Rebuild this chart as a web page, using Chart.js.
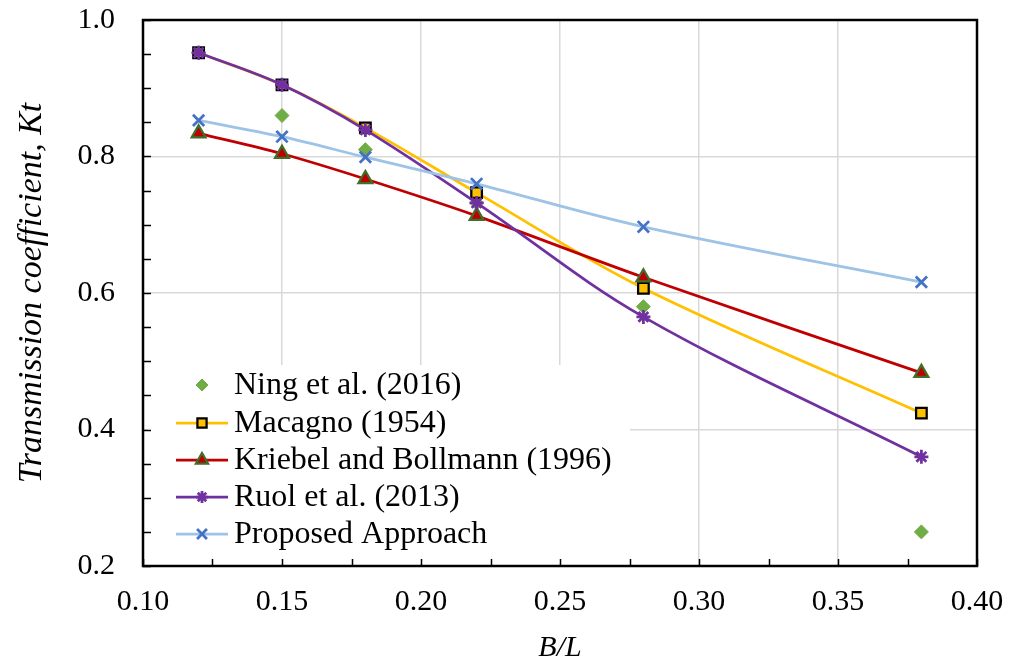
<!DOCTYPE html>
<html>
<head>
<meta charset="utf-8">
<script src="https://cdn.jsdelivr.net/npm/chart.js@4/dist/chart.umd.min.js"></script>
<style>
  html, body { margin: 0; padding: 0; background: #fff; }
  #wrap { width: 1016px; height: 669px; }
</style>
</head>
<body>
<div id="wrap"><canvas id="chart" width="1016" height="669"></canvas></div>
<script>
const ratios = [0.12, 0.15, 0.18, 0.22, 0.28, 0.38];
const ning = [0.952, 0.86, 0.81, 0.732, 0.58, 0.25];
const macagno = [0.952, 0.905, 0.842, 0.747, 0.607, 0.424];
const kriebel = [0.834, 0.804, 0.767, 0.713, 0.623, 0.483];
const ruol = [0.952, 0.905, 0.839, 0.732, 0.565, 0.36];
const proposed = [0.853, 0.829, 0.799, 0.76, 0.697, 0.616];
const xLabels = ['0.10', '0.15', '0.20', '0.25', '0.30', '0.35', '0.40'];
const yLabels = ['0.2', '0.4', '0.6', '0.8', '1.0'];

const FONT = "'Liberation Serif', 'Times New Roman', serif";

function pts(ys) {
  return ratios.map((x, i) => ({ x: x, y: ys[i] }));
}

const datasets = [
  {
    label: 'Ning et al. (2016)', data: pts(ning), showLine: false,
    pointStyle: 'rectRot', pointRadius: 7, pointBackgroundColor: '#70ad47',
    pointBorderColor: '#70ad47', pointBorderWidth: 1, borderColor: '#70ad47', order: 5
  },
  {
    label: 'Macagno (1954)', data: pts(macagno), borderColor: '#ffc000', borderWidth: 2.75,
    pointStyle: 'rect', pointRadius: 7.5, pointBackgroundColor: '#ffc000',
    pointBorderColor: '#000000', pointBorderWidth: 2.25, order: 4
  },
  {
    label: 'Kriebel and Bollmann (1996)', data: pts(kriebel), borderColor: '#c00000', borderWidth: 2.75,
    pointStyle: 'triangle', pointRadius: 8, pointBackgroundColor: '#c00000',
    pointBorderColor: '#3f6f2a', pointBorderWidth: 2.25, order: 3
  },
  {
    label: 'Ruol et al. (2013)', data: pts(ruol), borderColor: '#7030a0', borderWidth: 2.75,
    pointStyle: 'star', pointRadius: 7, pointBackgroundColor: '#7030a0',
    pointBorderColor: '#7030a0', pointBorderWidth: 2.75, order: 2
  },
  {
    label: 'Proposed Approach', data: pts(proposed), borderColor: '#9dc3e6', borderWidth: 2.75,
    pointStyle: 'crossRot', pointRadius: 8, pointBackgroundColor: '#4472c4',
    pointBorderColor: '#4472c4', pointBorderWidth: 2.75, order: 1
  }
];

function near(v, list) {
  return list.some(s => Math.abs(v - parseFloat(s)) < 1e-6);
}

// white legend box, inward tick marks, frame and legend
const extras = {
  id: 'extras',
  beforeDatasetsDraw(chart) {
    const ctx = chart.ctx;
    ctx.save();
    ctx.fillStyle = '#ffffff';
    ctx.fillRect(148, 365, 482, 199);
    ctx.restore();
  },
  afterDatasetsDraw(chart) {
    const ctx = chart.ctx;
    const a = chart.chartArea;
    const xs = chart.scales.x, ys = chart.scales.y;
    ctx.save();
    ctx.strokeStyle = '#000';
    ctx.lineWidth = 1.5;
    ctx.beginPath();
    xs.ticks.forEach(t => {
      const px = Math.round(xs.getPixelForValue(t.value)) + 0.5;
      ctx.moveTo(px, a.bottom);
      ctx.lineTo(px, a.bottom - 7);
    });
    ys.ticks.forEach(t => {
      const py = Math.round(ys.getPixelForValue(t.value)) + 0.5;
      ctx.moveTo(a.left, py);
      ctx.lineTo(a.left + 8, py);
    });
    ctx.stroke();
    ctx.lineWidth = 2.5;
    ctx.strokeRect(a.left, a.top, a.right - a.left, a.bottom - a.top);

    const rows = [385, 423, 460, 497, 534];
    ctx.font = '32px ' + FONT;
    ctx.textBaseline = 'middle';
    ctx.textAlign = 'left';
    datasets.forEach((ds, i) => {
      const y = rows[i];
      if (ds.showLine !== false) {
        ctx.strokeStyle = ds.borderColor;
        ctx.lineWidth = ds.borderWidth;
        ctx.beginPath();
        ctx.moveTo(176, y);
        ctx.lineTo(228, y);
        ctx.stroke();
      }
      ctx.fillStyle = ds.pointBackgroundColor;
      ctx.strokeStyle = ds.pointBorderColor;
      ctx.lineWidth = ds.pointBorderWidth;
      Chart.helpers.drawPoint(ctx, {
        pointStyle: ds.pointStyle, radius: ds.pointRadius - 1, borderWidth: ds.pointBorderWidth, rotation: 0
      }, 202, y);
      ctx.fillStyle = '#000';
      ctx.fillText(ds.label, 234, y + 1);
    });
    ctx.restore();
  }
};

new Chart(document.getElementById('chart'), {
  type: 'line',
  data: { datasets: datasets },
  plugins: [extras],
  options: {
    responsive: false,
    animation: false,
    events: [],
    layout: { padding: { top: 20, right: 39, left: 0, bottom: 0 } },
    elements: { line: { tension: 0.35 } },
    plugins: { legend: { display: false }, tooltip: { enabled: false } },
    scales: {
      x: {
        type: 'linear', min: 0.10, max: 0.40,
        afterFit(s) { s.height = 103; s.paddingLeft = 0; s.paddingRight = 0; },
        ticks: {
          stepSize: 0.025, autoSkip: false, maxRotation: 0, padding: 18, color: '#000',
          font: { family: FONT, size: 30 },
          callback: v => near(v, xLabels) ? v.toFixed(2) : ''
        },
        grid: {
          drawTicks: false, lineWidth: 1.5,
          color: c => (c.tick && near(c.tick.value, ['0.15', '0.20', '0.25', '0.30', '0.35'])) ? '#d9d9d9' : 'rgba(0,0,0,0)'
        },
        border: { display: false },
        title: {
          display: true, text: 'B/L', color: '#000',
          font: { family: FONT, size: 30, style: 'italic' }, padding: { top: 0, bottom: 3 }
        }
      },
      y: {
        type: 'linear', min: 0.2, max: 1.0,
        afterFit(s) { s.width = 143; s.paddingTop = 0; s.paddingBottom = 0; },
        ticks: {
          stepSize: 0.05, autoSkip: false, padding: 28, color: '#000',
          font: { family: FONT, size: 30 },
          callback: v => near(v, yLabels) ? v.toFixed(1) : ''
        },
        grid: {
          drawTicks: false, lineWidth: 1.5,
          color: c => (c.tick && near(c.tick.value, ['0.4', '0.6', '0.8'])) ? '#d9d9d9' : 'rgba(0,0,0,0)'
        },
        border: { display: false },
        title: {
          display: true, text: 'Transmission coefficient, Kt', color: '#000',
          font: { family: FONT, size: 34, style: 'italic' }, padding: { top: 12, bottom: 0 }
        }
      }
    }
  }
});
</script>
</body>
</html>
